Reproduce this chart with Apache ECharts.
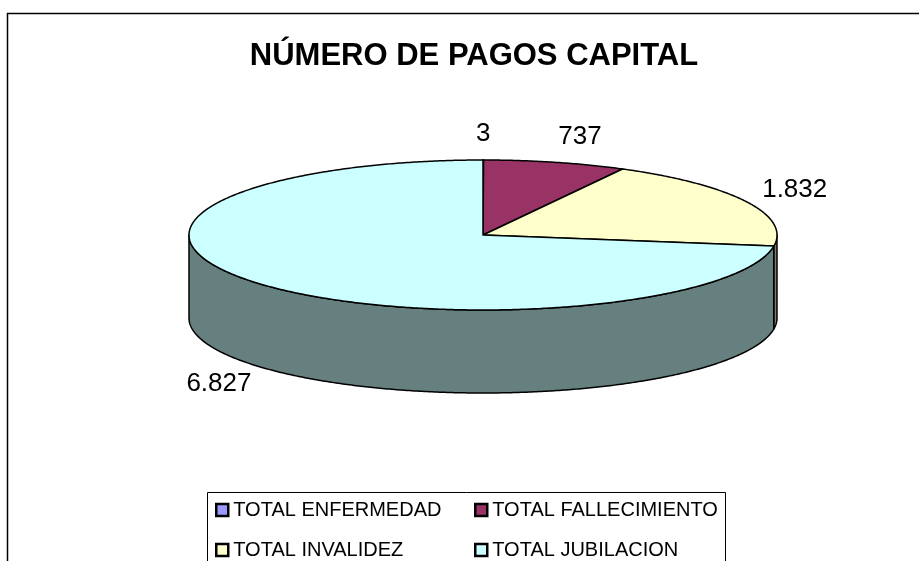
<!DOCTYPE html>
<html>
<head>
<meta charset="utf-8">
<script src="https://cdn.jsdelivr.net/npm/echarts@6/dist/echarts.min.js"></script>
<style>
html, body { margin: 0; padding: 0; background: #fff; }
#chart { width: 919px; height: 561px; }
</style>
</head>
<body>
<div id="chart"></div>
<script>
// datos
var categories = ['TOTAL ENFERMEDAD', 'TOTAL FALLECIMIENTO', 'TOTAL INVALIDEZ', 'TOTAL JUBILACION'];
var values = [3, 737, 1832, 6827];
var colors = ['#9999FF', '#993366', '#FFFFCC', '#CCFFFF'];
var sideColors = ['#4d4d80', '#4d1a33', '#808066', '#668080'];

var FONT = "'Liberation Sans', Arial, sans-serif";

// geometria de la torta 3D
var cx = 483, cy = 235, rx = 294, ry = 75, depth = 83;
var labelDx = 22, labelDy = 13;

var total = values.reduce(function (a, b) { return a + b; }, 0);
var starts = [], ends = [];
var acc = 0;
values.forEach(function (v) {
    starts.push(acc / total * Math.PI * 2);
    acc += v;
    ends.push(acc / total * Math.PI * 2);
});

function fmt(v) {
    // separador de miles con punto
    return String(v).replace(/\B(?=(\d{3})+(?!\d))/g, '.');
}

var ctx = document.createElement('canvas').getContext('2d');
ctx.font = '26px ' + FONT;

function pt(t, dy) {
    return [cx + rx * Math.sin(t), cy - ry * Math.cos(t) + (dy || 0)];
}

function arcPts(a, b, dy) {
    var pts = [];
    var n = Math.max(2, Math.ceil((b - a) / (Math.PI / 360)));
    for (var i = 0; i <= n; i++) {
        pts.push(pt(a + (b - a) * i / n, dy));
    }
    return pts;
}

function makeSeries(idx) {
    return {
        type: 'custom',
        name: categories[idx],
        coordinateSystem: 'none',
        itemStyle: { color: colors[idx] },
        data: [values[idx]],
        renderItem: function (params, api) {
            var a = starts[idx], b = ends[idx];
            var children = [];
            var stroke = { stroke: '#000', lineWidth: 1.5, lineJoin: 'round' };
            // lado visible (mitad delantera)
            var sa = Math.max(a, Math.PI / 2), sb = Math.min(b, Math.PI * 3 / 2);
            if (sb > sa) {
                var topArc = arcPts(sa, sb, 0);
                var botArc = arcPts(sa, sb, depth).reverse();
                children.push({
                    type: 'polygon', z2: 1,
                    shape: { points: topArc.concat(botArc) },
                    style: Object.assign({ fill: sideColors[idx] }, stroke)
                });
            }
            // cara superior
            children.push({
                type: 'polygon', z2: 5,
                shape: { points: [[cx, cy]].concat(arcPts(a, b, 0)) },
                style: Object.assign({ fill: colors[idx] }, stroke)
            });
            // etiqueta
            var m = (a + b) / 2;
            var s = Math.sin(m), c = Math.cos(m);
            var txt = fmt(values[idx]);
            var w = ctx.measureText(txt).width, h = 26;
            var lx = cx + (rx + labelDx) * s + s * w / 2;
            var ly = cy - (ry + labelDy) * c - c * h / 2 + (c < 0 ? depth : 0);
            // evitar que la etiqueta choque con la anterior
            if (idx > 0 && values[idx - 1] / total < 0.02 && s > 0 && c > 0) {
                lx += 14;
            }
            children.push({
                type: 'text', z2: 10,
                x: lx, y: ly,
                style: {
                    text: txt, fill: '#000', font: '26px ' + FONT,
                    align: 'center', verticalAlign: 'middle'
                }
            });
            return { type: 'group', children: children };
        }
    };
}

var legendCommon = {
    orient: 'vertical',
    icon: 'rect',
    padding: 0,
    height: 100,
    itemWidth: 12,
    itemHeight: 12,
    itemGap: 20,
    itemStyle: { borderColor: '#000', borderWidth: 2.5 },
    textStyle: { fontSize: 20, color: '#000', fontFamily: FONT },
    selectedMode: false
};

var myChart = echarts.init(document.getElementById('chart'));
var option = {
    backgroundColor: '#fff',
    animation: false,
    title: {
        text: 'NÚMERO DE PAGOS CAPITAL',
        left: 469,
        top: 36,
        textAlign: 'center',
        textStyle: { fontSize: 31, fontWeight: 'bold', color: '#000', fontFamily: FONT }
    },
    legend: [
        Object.assign({ data: [categories[0], categories[2]], left: 215, top: 500 }, legendCommon),
        Object.assign({ data: [categories[1], categories[3]], left: 474, top: 500 }, legendCommon)
    ],
    graphic: [
        {
            type: 'polyline',
            shape: { points: [[7.5, 561], [7.5, 13.5], [919, 13.5]] },
            style: { stroke: '#000', lineWidth: 1.5, fill: null }
        },
        {
            type: 'rect',
            shape: { x: 207.5, y: 492.5, width: 518, height: 90 },
            style: { stroke: '#000', lineWidth: 1, fill: null }
        }
    ],
    series: [makeSeries(0), makeSeries(1), makeSeries(2), makeSeries(3)]
};
myChart.setOption(option, true);
</script>
</body>
</html>
